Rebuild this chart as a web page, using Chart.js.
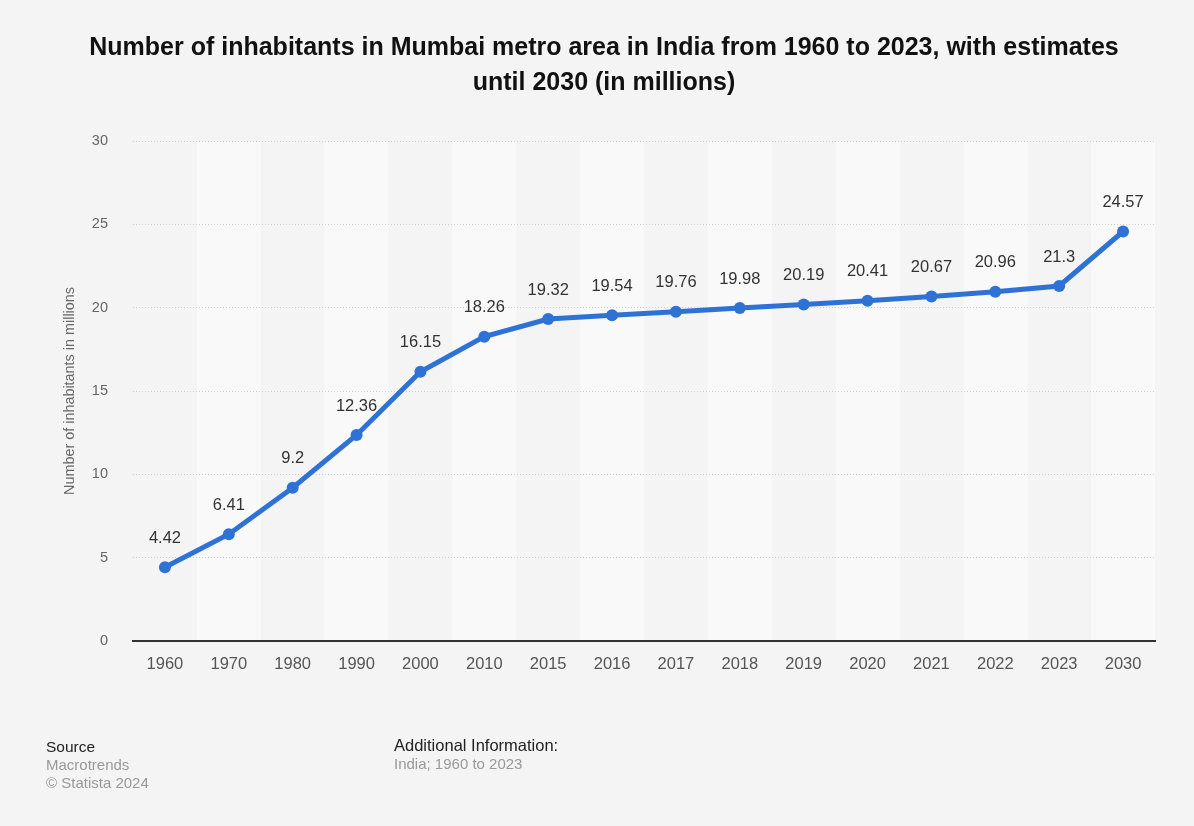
<!DOCTYPE html>
<html>
<head>
<meta charset="utf-8">
<script src="https://cdn.jsdelivr.net/npm/chart.js@4.4.1/dist/chart.umd.min.js"></script>
<style>
  html, body { margin: 0; padding: 0; background: #f4f4f4; }
  body { width: 1194px; height: 826px; position: relative; overflow: hidden; font-family: "Liberation Sans", Arial, sans-serif; }
  #title { position: absolute; left: 10px; width: 1188px; top: 29px; text-align: center; font-weight: bold; font-size: 25px; line-height: 35px; color: #111; }
  #wrap { position: absolute; left: 0; top: 0; width: 1194px; height: 826px; }
  .ft { position: absolute; font-size: 15px; white-space: nowrap; }
  .h { color: #222; }
  .g { color: #999; }
</style>
</head>
<body>
<div id="wrap"><canvas id="c" width="1194" height="826"></canvas></div>
<div id="title">Number of inhabitants in Mumbai metro area in India from 1960 to 2023, with estimates<br>until 2030 (in millions)</div>
<div class="ft h" style="left:46px; top:738px; font-size:15.5px;">Source</div>
<div class="ft g" style="left:46px; top:756px;">Macrotrends</div>
<div class="ft g" style="left:46px; top:774px;">© Statista 2024</div>
<div class="ft h" style="left:394px; top:736px; font-size:16.5px;">Additional Information:</div>
<div class="ft g" style="left:394px; top:755px;">India; 1960 to 2023</div>
<script>
const categories = ["1960","1970","1980","1990","2000","2010","2015","2016","2017","2018","2019","2020","2021","2022","2023","2030"];
const inhabitants = [4.42, 6.41, 9.2, 12.36, 16.15, 18.26, 19.32, 19.54, 19.76, 19.98, 20.19, 20.41, 20.67, 20.96, 21.3, 24.57];
const yTicks = [0, 5, 10, 15, 20, 25, 30];
const valueLabels = ["4.42","6.41","9.2","12.36","16.15","18.26","19.32","19.54","19.76","19.98","20.19","20.41","20.67","20.96","21.3","24.57"];

const FONT = '"Liberation Sans", Arial, sans-serif';
const LINE_COLOR = '#2e72d6';

const bandPlugin = {
  id: 'bands',
  beforeDraw(chart) {
    const {ctx, chartArea, scales: {x}} = chart;
    const step = (chartArea.right - chartArea.left) / categories.length;
    ctx.save();
    ctx.fillStyle = '#f9f9f9';
    categories.forEach((c, i) => {
      if (i % 2 === 1) {
        const cx = x.getPixelForValue(i);
        ctx.fillRect(cx - step / 2, chartArea.top, step, chartArea.bottom - chartArea.top);
      }
    });
    ctx.restore();
  }
};

const labelPlugin = {
  id: 'valueLabels',
  afterDatasetsDraw(chart) {
    const {ctx} = chart;
    const meta = chart.getDatasetMeta(0);
    ctx.save();
    ctx.font = '16.5px ' + FONT;
    ctx.fillStyle = '#333';
    ctx.textAlign = 'center';
    ctx.textBaseline = 'middle';
    meta.data.forEach((pt, i) => {
      ctx.fillText(valueLabels[i], pt.x, pt.y - 29);
    });
    ctx.restore();
  }
};

new Chart(document.getElementById('c'), {
  type: 'line',
  data: {
    labels: categories,
    datasets: [{
      data: inhabitants,
      borderColor: LINE_COLOR,
      backgroundColor: LINE_COLOR,
      borderWidth: 5,
      pointRadius: 6,
      pointHoverRadius: 6,
      pointBackgroundColor: LINE_COLOR,
      pointBorderWidth: 0,
      tension: 0,
      fill: false
    }]
  },
  options: {
    responsive: false,
    animation: false,
    devicePixelRatio: 1,
    layout: { padding: { left: 61, right: 39, top: 141, bottom: 0 } },
    plugins: {
      legend: { display: false },
      title: { display: false },
      tooltip: { enabled: false }
    },
    scales: {
      x: {
        offset: true,
        grid: { display: false, drawTicks: false },
        border: { display: true, color: '#333', width: 2 },
        ticks: { color: '#555', font: { family: FONT, size: 16.5 }, padding: 14, maxRotation: 0, autoSkip: false },
        afterFit(scale) { scale.height = 185; }
      },
      y: {
        min: 0,
        max: 30,
        afterBuildTicks(scale) { scale.ticks = yTicks.map(v => ({ value: v })); },
        grid: { color: '#cfcfcf', lineWidth: 1, drawTicks: false },
        border: { display: false, dash: [1, 2] },
        ticks: { color: '#666', font: { family: FONT, size: 14.5 }, padding: 25 },
        title: { display: true, text: 'Number of inhabitants in millions', color: '#666', font: { family: FONT, size: 14.4 }, padding: 0 },
        afterFit(scale) { scale.width = 72; }
      }
    }
  },
  plugins: [bandPlugin, labelPlugin]
});
</script>
</body>
</html>
